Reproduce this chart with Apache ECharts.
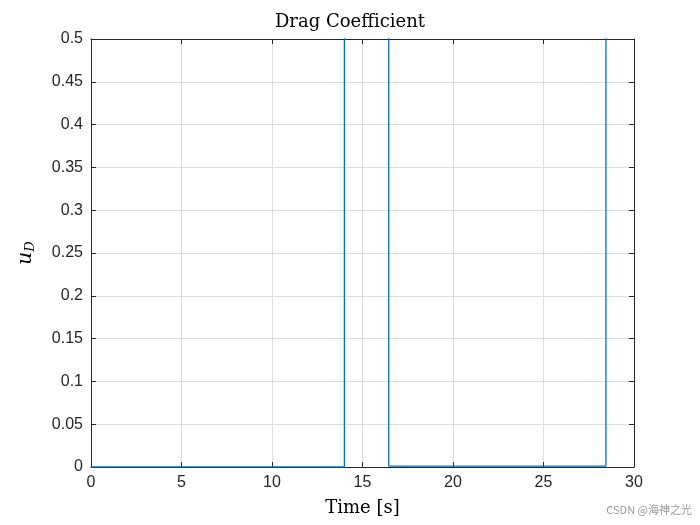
<!DOCTYPE html>
<html><head><meta charset="utf-8">
<script src="https://cdn.jsdelivr.net/npm/echarts@6/dist/echarts.min.js"></script>
<style>html,body{margin:0;background:#fff}#box{width:700px;height:525px}</style>
</head><body><div id="box"></div>
<script>
// step signal: time [s] and drag coefficient (values above 0.5 are clipped by the axes)
var timeS = [0, 14.0, 14.0, 16.45, 16.45, 28.45, 28.45, 30];
var uD    = [0, 0, 0.6, 0.6, 0.001, 0.001, 0.6, 0.6];
var xTicks = [0, 5, 10, 15, 20, 25, 30];

var myChart = echarts.init(document.getElementById('box'));
var axisFont = {fontFamily: 'Liberation Sans, Arial', fontSize: 16, color: '#262626'};
var frame = {show: true, onZero: false, lineStyle: {color: '#262626', width: 1}};

option = {
    animation: false,
    title: {text: 'Drag Coefficient', left: 'center', top: 8,
        textStyle: {fontFamily: 'DejaVu Serif, serif', fontWeight: 'normal', fontSize: 18, color: '#000'}},
    grid: {left: 91, right: 66, top: 39, bottom: 58},
    xAxis: [{
        type: 'value', min: 0, max: 30, interval: 5,
        name: 'Time [s]', nameLocation: 'middle', nameGap: 32,
        nameTextStyle: {fontFamily: 'DejaVu Serif, serif', fontSize: 18, color: '#000'},
        axisLine: frame, axisTick: {show: true, inside: true, length: 5, lineStyle: {color: '#262626'}},
        axisLabel: axisFont,
        splitLine: {show: true, lineStyle: {color: '#dedede'}}
    }, {
        type: 'value', min: 0, max: 30, interval: 5, position: 'top',
        axisLine: frame, axisTick: {show: true, inside: true, length: 5, lineStyle: {color: '#262626'}},
        axisLabel: {show: false}, splitLine: {show: false}
    }],
    yAxis: [{
        type: 'value', min: 0, max: 0.5, interval: 0.05,
        name: '{u|u}{d|D}', nameLocation: 'middle', nameGap: 54, nameRotate: 90,
        nameTextStyle: {rich: {
            u: {fontFamily: 'DejaVu Serif, serif', fontStyle: 'italic', fontSize: 20, color: '#000'},
            d: {fontFamily: 'DejaVu Serif, serif', fontStyle: 'italic', fontSize: 13, color: '#000', padding: [10, 0, 0, 0]}
        }},
        axisLine: frame, axisTick: {show: true, inside: true, length: 5, lineStyle: {color: '#262626'}},
        axisLabel: Object.assign({formatter: function (v) { return String(+v.toFixed(2)); }}, axisFont),
        splitLine: {show: true, lineStyle: {color: '#dedede'}}
    }, {
        type: 'value', min: 0, max: 0.5, interval: 0.05, position: 'right',
        axisLine: frame, axisTick: {show: true, inside: true, length: 5, lineStyle: {color: '#262626'}},
        axisLabel: {show: false}, splitLine: {show: false}
    }],
    series: [{
        type: 'line', clip: true, showSymbol: false,
        data: timeS.map(function (t, i) { return [t, uD[i]]; }),
        lineStyle: {color: '#0072bd', width: 1.3}
    }],
    graphic: [{type: 'text', right: 8, bottom: 10,
        style: {text: 'CSDN @海神之光', fontSize: 11, fill: '#999', fontFamily: 'Noto Sans CJK SC'}}]
};
if (option && typeof option === "object") {
    myChart.setOption(option, true);
}
</script></body></html>
